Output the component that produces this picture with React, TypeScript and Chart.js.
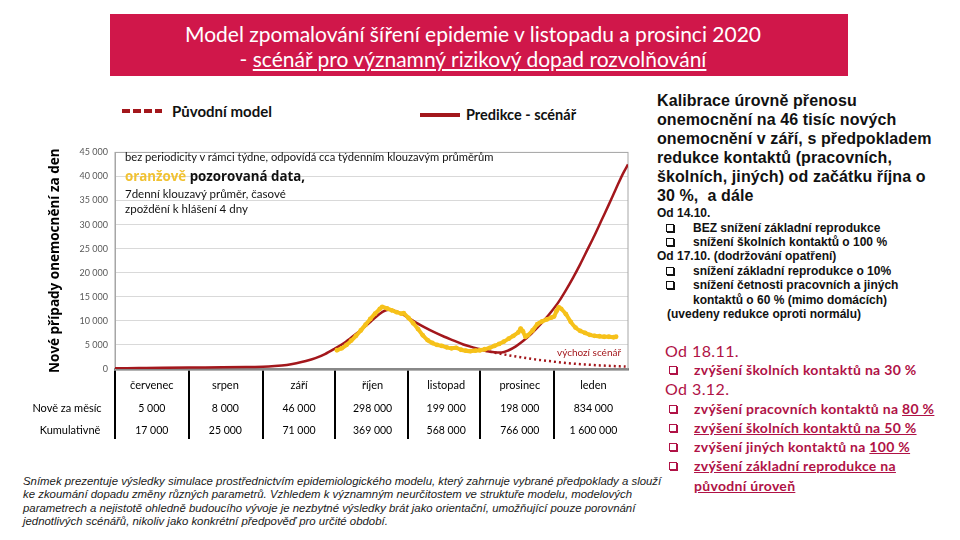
import React, { useEffect, useRef } from "react";
import { Chart, registerables } from "chart.js";

Chart.register(...registerables);

// ---------- data ----------
const monthNames = ["červenec", "srpen", "září", "říjen", "listopad", "prosinec", "leden"];
const monthStartDays = [0, 31, 62, 92, 123, 153, 184];
const axisEndDay = 215;
const yTickValues = [0, 5000, 10000, 15000, 20000, 25000, 30000, 35000, 40000, 45000];
const newPerMonth = ["5 000", "8 000", "46 000", "298 000", "199 000", "198 000", "834 000"];
const cumulativeTotals = ["17 000", "25 000", "71 000", "369 000", "568 000", "766 000", "1 600 000"];

// Predikce - scénář (solid red)
const scenarioDays = [0, 10, 20, 31, 45, 55, 62, 67, 72, 76, 80, 84, 88, 92, 96, 100, 104, 108, 111, 113, 115, 117, 120, 123, 126, 130, 134, 138, 142, 146, 150, 153, 156, 159, 162, 165, 168, 171, 174, 177, 180, 183, 186, 189, 192, 195, 198, 201, 204, 207, 210, 213, 215];
const scenarioCases = [150, 200, 250, 300, 350, 400, 450, 600, 850, 1200, 1650, 2250, 3100, 4200, 5400, 6900, 8500, 10200, 11500, 12100, 12300, 12100, 11500, 10600, 9700, 8600, 7600, 6700, 5900, 5100, 4500, 4100, 3700, 3500, 3450, 3900, 4700, 5800, 7100, 8600, 10200, 12000, 14000, 16400, 19000, 21800, 24800, 27800, 31000, 34200, 37500, 40700, 42500];

// Původní model / výchozí scénář (dotted red)
const originalDays = [155, 160, 165, 170, 176, 182, 188, 194, 200, 207, 214];
const originalCases = [3800, 3300, 2850, 2450, 2000, 1650, 1300, 1050, 850, 650, 500];

// pozorovaná data (orange)
const observedDays = [93, 95, 97, 99, 101, 103, 105, 107, 109, 111, 112, 114, 116, 118, 120, 121, 123, 125, 127, 129, 131, 133, 135, 137, 139, 141, 143, 145, 147, 149, 151, 153, 155, 157, 159, 161, 163, 165, 167, 169, 170, 171, 172, 173, 175, 177, 179, 181, 183, 184, 185, 186, 187, 189, 191, 193, 195, 197, 199, 201, 203, 205, 207, 209, 210];
const observedCases = [3900, 4300, 5000, 5900, 6900, 8000, 9200, 10400, 11500, 12500, 12900, 12600, 12200, 11800, 11500, 11600, 10600, 9500, 8300, 7000, 6000, 5400, 5000, 4800, 4500, 4300, 4400, 4000, 3800, 3700, 3800, 3900, 4100, 4400, 4800, 5200, 5700, 6300, 6900, 7600, 8400, 7800, 6700, 7000, 8000, 9300, 9900, 10300, 10700, 10900, 12000, 12800, 12500, 11400, 9800, 8600, 7900, 7500, 7100, 6900, 6800, 6700, 6700, 6600, 6700];

// ---------- styles ----------
const RED = "#a3171c";
const ORANGE = "#f6c11a";
const CRIMSON = "#d0174a";
const MAGENTA = "#b01246";

const fmtThousands = (v: number) => (v === 0 ? "0" : `${Math.floor(v / 1000)} 000`);

const boxPlugin = {
  id: "plotBox",
  beforeDatasetsDraw(chart: any) {
    const { ctx, chartArea } = chart;
    ctx.save();
    ctx.strokeStyle = "#a6a6a6";
    ctx.lineWidth = 1;
    ctx.strokeRect(chartArea.left, chartArea.top, chartArea.right - chartArea.left, chartArea.bottom - chartArea.top);
    ctx.restore();
  },
};

function ChartCanvas() {
  const ref = useRef<HTMLCanvasElement | null>(null);
  useEffect(() => {
    if (!ref.current) return;
    const chart = new Chart(ref.current, {
      type: "line",
      data: {
        datasets: [
          {
            label: "pozorovaná data",
            data: observedDays.map((d, i) => ({ x: d, y: observedCases[i] })),
            borderColor: ORANGE,
            backgroundColor: ORANGE,
            borderWidth: 4,
            pointRadius: 2.4,
            pointBorderWidth: 0,
            pointBackgroundColor: ORANGE,
            tension: 0.2,
          },
          {
            label: "Predikce - scénář",
            data: scenarioDays.map((d, i) => ({ x: d, y: scenarioCases[i] })),
            borderColor: RED,
            borderWidth: 2.5,
            pointRadius: 0,
            cubicInterpolationMode: "monotone",
          },
          {
            label: "Původní model",
            data: originalDays.map((d, i) => ({ x: d, y: originalCases[i] })),
            borderColor: RED,
            borderWidth: 2.5,
            borderDash: [2, 3],
            pointRadius: 0,
            cubicInterpolationMode: "monotone",
          },
        ],
      } as any,
      options: {
        animation: false,
        responsive: true,
        maintainAspectRatio: false,
        layout: { padding: { top: 5, right: 2, left: 0, bottom: 0 } },
        plugins: { legend: { display: false }, tooltip: { enabled: false } },
        scales: {
          x: {
            type: "linear",
            min: 0,
            max: axisEndDay,
            afterBuildTicks: (scale: any) => {
              scale.ticks = monthStartDays.map((v) => ({ value: v }));
            },
            afterFit: (scale: any) => {
              scale.height = 71;
            },
            ticks: { display: false },
            grid: { drawOnChartArea: false, drawTicks: true, tickLength: 70, color: "#000", lineWidth: 2 },
            border: { display: true, color: "#6b6b6b", width: 2.5 },
          },
          y: {
            min: 0,
            max: 45000,
            afterBuildTicks: (scale: any) => {
              scale.ticks = yTickValues.map((v) => ({ value: v }));
            },
            afterFit: (scale: any) => {
              scale.width = 75;
            },
            ticks: {
              padding: 7,
              color: "#595959",
              font: { family: "Lato", size: 9 },
              callback: (v: any) => fmtThousands(Number(v)),
            },
            grid: { color: "#d9d9d9", lineWidth: 1, drawTicks: false },
            border: { display: true, color: "#a6a6a6" },
            title: {
              display: true,
              text: "Nové případy onemocnění za den",
              color: "#000",
              font: { family: "Open Sans", size: 13.5, weight: "bold" },
              padding: { top: 7, bottom: 0 },
            },
          },
        },
      } as any,
      plugins: [boxPlugin],
    });
    return () => chart.destroy();
  }, []);
  return (
    <div style={{ position: "absolute", left: 40, top: 140, width: 592, height: 300 }}>
      <canvas ref={ref} />
    </div>
  );
}

type TP = { x: number; y: number; size: number; children: React.ReactNode; style?: React.CSSProperties; center?: boolean; w?: number };
function T({ x, y, size, children, style, center, w }: TP) {
  const base: React.CSSProperties = {
    position: "absolute",
    top: y - size * 0.6,
    fontSize: size,
    lineHeight: `${size * 1.2}px`,
    whiteSpace: "pre",
  };
  if (center) {
    const width = w ?? 120;
    Object.assign(base, { left: x - width / 2, width, textAlign: "center" });
  } else {
    base.left = x;
  }
  return <div style={{ ...base, ...style }}>{children}</div>;
}

function Box({ x, y, color }: { x: number; y: number; color: string }) {
  return (
    <div
      style={{
        position: "absolute",
        left: x,
        top: y - 4,
        width: 6,
        height: 6,
        border: `1.3px solid ${color}`,
        boxShadow: `1px 1px 0 ${color}`,
      }}
    />
  );
}

export default function App() {
  const colW = 73.6;
  const colLeft = 115;
  const small: React.CSSProperties = { fontFamily: "'Liberation Sans Narrow', 'Liberation Sans', Arial, sans-serif", fontWeight: 700, color: "#111" };
  const pink: React.CSSProperties = { fontFamily: "Lato, sans-serif", fontWeight: 700, color: MAGENTA, letterSpacing: 0.3 };
  const tableFont: React.CSSProperties = { fontFamily: "Lato, sans-serif", color: "#000" };
  return (
    <div style={{ position: "fixed", left: 0, top: 0, width: 960, height: 540, background: "#fff", overflow: "hidden", fontFamily: "Lato, sans-serif" }}>
      {/* title banner */}
      <div
        style={{
          position: "absolute",
          left: 110,
          top: 14,
          width: 738,
          height: 62,
          background: CRIMSON,
          color: "#fff",
          fontFamily: "Lato, sans-serif",
          fontSize: 21,
          lineHeight: "25px",
          textAlign: "center",
          paddingTop: 7,
          paddingRight: 12,
          boxSizing: "border-box",
        }}
      >
        <div>Model zpomalování šíření epidemie v listopadu a prosinci 2020</div>
        <div>
          - <span style={{ textDecoration: "underline" }}>scénář pro významný rizikový dopad rozvolňování</span>
        </div>
      </div>

      {/* legend */}
      <div style={{ position: "absolute", left: 122, top: 109, width: 40, height: 4, background: `repeating-linear-gradient(90deg, ${RED} 0 8px, transparent 8px 11px)` }} />
      <T x={172} y={111} size={15} style={{ fontWeight: 700, fontFamily: "Lato, sans-serif", color: "#111" }}>Původní model</T>
      <div style={{ position: "absolute", left: 420, top: 113, width: 40, height: 4, background: RED }} />
      <T x={466} y={115} size={14.5} style={{ fontWeight: 700, fontFamily: "Lato, sans-serif", color: "#111" }}>Predikce - scénář</T>

      <ChartCanvas />

      {/* annotations inside plot */}
      <T x={125} y={157} size={11.2} style={{ color: "#111" }}>bez periodicity v rámci týdne, odpovídá cca týdenním klouzavým průměrům</T>
      <T x={125} y={177} size={13.3} style={{ fontFamily: "'Open Sans', sans-serif", fontWeight: 700, color: "#111" }}>
        <span style={{ color: "#f1c232" }}>oranžově</span> pozorovaná data,
      </T>
      <T x={125} y={194} size={11.5} style={{ color: "#111" }}>7denní klouzavý průměr, časové</T>
      <T x={125} y={209} size={11.5} style={{ color: "#111" }}>zpoždění k hlášení 4 dny</T>
      <T x={557} y={352} size={10} style={{ color: RED }}>výchozí scénář</T>

      {/* table */}
      {monthNames.map((m, i) => (
        <T key={"m" + i} x={colLeft + colW * (i + 0.5)} y={385} size={11} center w={72} style={tableFont}>{m}</T>
      ))}
      <T x={67} y={408} size={11} center w={90} style={tableFont}>Nově za měsíc</T>
      <T x={70} y={430} size={11} center w={90} style={tableFont}>Kumulativně</T>
      {newPerMonth.map((v, i) => (
        <T key={"n" + i} x={colLeft + colW * (i + 0.5)} y={408} size={10.5} center w={72} style={tableFont}>{v}</T>
      ))}
      {cumulativeTotals.map((v, i) => (
        <T key={"c" + i} x={colLeft + colW * (i + 0.5)} y={430} size={10.5} center w={72} style={tableFont}>{v}</T>
      ))}

      {/* disclaimer */}
      <div
        style={{
          position: "absolute",
          left: 23,
          top: 475,
          fontFamily: "'Liberation Sans', Arial, sans-serif",
          fontStyle: "italic",
          fontSize: 11.4,
          lineHeight: "13.4px",
          color: "#1a1a1a",
          whiteSpace: "pre",
        }}
      >
        {"Snímek prezentuje výsledky simulace prostřednictvím epidemiologického modelu, který zahrnuje vybrané předpoklady a slouží\n" +
          "ke zkoumání dopadu změny různých parametrů. Vzhledem k významným neurčitostem ve struktuře modelu, modelových\n" +
          "parametrech a nejistotě ohledně budoucího vývoje je nezbytné výsledky brát jako orientační, umožňující pouze porovnání\n" +
          "jednotlivých scénářů, nikoliv jako konkrétní předpověď pro určité období."}
      </div>

      {/* right text: top block */}
      <div
        style={{
          position: "absolute",
          left: 657,
          top: 91,
          fontFamily: "'Liberation Sans', Arial, sans-serif",
          fontWeight: 700,
          fontSize: 16,
          lineHeight: "19px",
          letterSpacing: 0.1,
          color: "#111",
          whiteSpace: "pre",
        }}
      >
        {"Kalibrace úrovně přenosu\nonemocnění na 46 tisíc nových\nonemocnění v září, s předpokladem\nredukce kontaktů (pracovních,\nškolních, jiných) od začátku října o\n30 %,  a dále"}
      </div>
      <T x={657} y={213} size={12} style={small}>Od 14.10.</T>
      <Box x={666} y={228} color="#111" />
      <T x={693} y={228} size={12} style={small}>BEZ snížení základní reprodukce</T>
      <Box x={666} y={242} color="#111" />
      <T x={693} y={242} size={12} style={small}>snížení školních kontaktů o 100 %</T>
      <T x={657} y={256} size={12} style={small}>Od 17.10. (dodržování opatření)</T>
      <Box x={666} y={271} color="#111" />
      <T x={693} y={271} size={12} style={small}>snížení základní reprodukce o 10%</T>
      <Box x={666} y={285} color="#111" />
      <T x={693} y={285} size={12} style={small}>snížení četnosti pracovních a jiných</T>
      <T x={693} y={300} size={12} style={small}>kontaktů o 60 % (mimo domácích)</T>
      <T x={667} y={314} size={12} style={small}>(uvedeny redukce oproti normálu)</T>

      {/* right text: lower block */}
      <T x={665} y={351} size={16} style={{ fontFamily: "Lato, sans-serif", color: MAGENTA, letterSpacing: 0.4 }}>Od 18.11.</T>
      <Box x={669} y={370} color={MAGENTA} />
      <T x={694} y={370} size={14} style={pink}>zvýšení školních kontaktů na 30 %</T>
      <T x={665} y={389} size={16} style={{ fontFamily: "Lato, sans-serif", color: MAGENTA, letterSpacing: 0.4 }}>Od 3.12.</T>
      <Box x={669} y={409} color={MAGENTA} />
      <T x={694} y={409} size={14} style={pink}>
        zvýšení pracovních kontaktů na <span style={{ textDecoration: "underline" }}>80 %</span>
      </T>
      <Box x={669} y={428} color={MAGENTA} />
      <T x={694} y={428} size={14} style={{ ...pink, textDecoration: "underline" }}>zvýšení školních kontaktů na 50 %</T>
      <Box x={669} y={447} color={MAGENTA} />
      <T x={694} y={447} size={14} style={pink}>
        zvýšení jiných kontaktů na <span style={{ textDecoration: "underline" }}>100 %</span>
      </T>
      <Box x={669} y={466} color={MAGENTA} />
      <T x={694} y={466} size={14} style={{ ...pink, textDecoration: "underline" }}>zvýšení základní reprodukce na</T>
      <T x={694} y={486} size={14} style={{ ...pink, textDecoration: "underline" }}>původní úroveň</T>
    </div>
  );
}
